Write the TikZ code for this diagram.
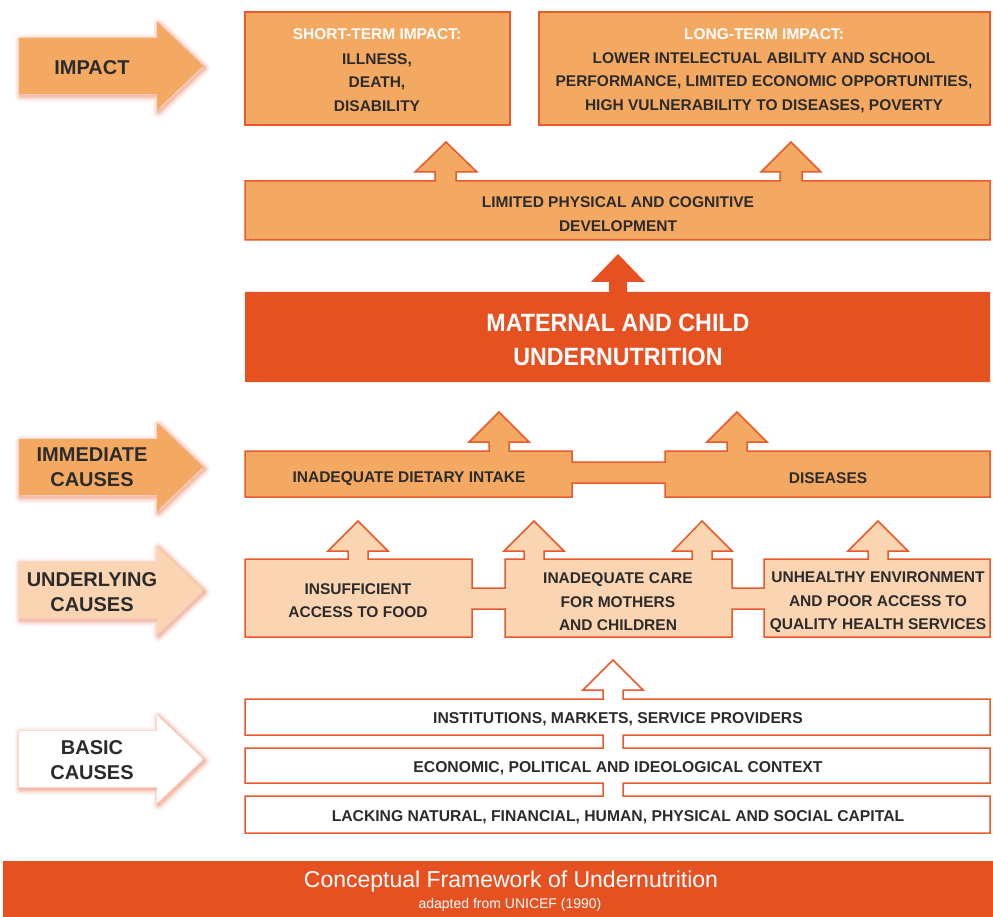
\documentclass[tikz,border=0pt]{standalone}
\usepackage{fontspec}
\setmainfont{Liberation Sans}
\newfontfamily\condfont[FakeStretch=0.93]{Liberation Sans}
\definecolor{ormid}{HTML}{F4A963}
\definecolor{orlight}{HTML}{FBD4B1}
\definecolor{ordark}{HTML}{E65122}
\definecolor{orline}{HTML}{E8592B}
\definecolor{txt}{HTML}{2B2B2B}
\newcommand\sidearrow[2]{%
  \foreach \w/\o in {12/0.05,9/0.08,6/0.12,3/0.2}{%
    \draw[line width=\w pt,draw=orline,opacity=\o,line join=round,shift={(1.5,2)}]
      (19,#1-28) -- (157,#1-28) -- (157,#1-44) -- (203,#1) -- (157,#1+44) -- (157,#1+28) -- (19,#1+28) -- cycle;}
  \fill[#2] (19,#1-28) -- (157,#1-28) -- (157,#1-44) -- (203,#1) -- (157,#1+44) -- (157,#1+28) -- (19,#1+28) -- cycle;}
\begin{document}
\begin{tikzpicture}[x=1pt,y=-1pt,
  block/.style={draw=orline,line width=1.5pt,line join=miter},
  boxtxt/.style={text=txt,align=center,font=\bfseries\fontsize{15.5}{23.5}\selectfont,inner sep=0pt},
  sidetxt/.style={text=txt,align=center,font=\bfseries\fontsize{20}{25}\selectfont,inner sep=0pt},
  wtitle/.style={text=white,font=\bfseries\fontsize{15.5}{23.5}\selectfont,inner sep=0pt}]
\useasboundingbox (0,0) rectangle (993,917);
\fill[white] (0,0) rectangle (993,917);

% ---------- side arrows ----------
\sidearrow{66}{ormid}
\sidearrow{467}{ormid}
\sidearrow{590}{orlight}
\sidearrow{759}{white}
\node[sidetxt] (limpact) at (92,68) {IMPACT};
\node[sidetxt] (limmed) at (92,467) {IMMEDIATE\\CAUSES};
\node[sidetxt] (lunder) at (92,592) {UNDERLYING\\CAUSES};
\node[sidetxt] (lbasic) at (92,760.5) {BASIC\\CAUSES};

% ---------- impact boxes ----------
\draw[block,fill=ormid] (245,12) rectangle (510,125);
\draw[block,fill=ormid] (539,12) rectangle (990,125);
\node[wtitle] (sttitle) at (377,34) {SHORT-TERM IMPACT:};
\node[boxtxt] (sttext) at (377,82.5) {ILLNESS,\\DEATH,\\DISABILITY};
\node[wtitle] (lttitle) at (764,34) {LONG-TERM IMPACT:};
\node[boxtxt] (lttext) at (764,82.5) {LOWER INTELECTUAL ABILITY AND SCHOOL\\PERFORMANCE, LIMITED ECONOMIC OPPORTUNITIES,\\HIGH VULNERABILITY TO DISEASES, POVERTY};

% ---------- limited development ----------
\draw[block,fill=ormid] (245,181) -- (435,181) -- (435,172) -- (415,172) -- (446,142) -- (477,172) -- (456,172) -- (456,181)
  -- (780,181) -- (780,172) -- (761,172) -- (791,142) -- (821,172) -- (802,172) -- (802,181)
  -- (990,181) -- (990,240) -- (245,240) -- cycle;
\node[boxtxt] (limited) at (618,214) {LIMITED PHYSICAL AND COGNITIVE\\DEVELOPMENT};

% ---------- maternal and child undernutrition ----------
\fill[ordark] (245,292) -- (609,292) -- (609,282) -- (591,282) -- (618,254) -- (645,282) -- (627,282) -- (627,292)
  -- (990,292) -- (990,382) -- (245,382) -- cycle;
\node[text=white,align=center,font=\condfont\bfseries\fontsize{25}{34}\selectfont,inner sep=0pt] (mcu) at (618,340) {MATERNAL AND CHILD\\UNDERNUTRITION};

% ---------- immediate causes ----------
\draw[block,fill=ormid] (245,451) -- (489,451) -- (489,442) -- (469,442) -- (499,412) -- (529,442) -- (509,442) -- (509,451)
  -- (572,451) -- (572,462) -- (665,462) -- (665,451)
  -- (727,451) -- (727,442) -- (707,442) -- (737,412) -- (767,442) -- (747,442) -- (747,451)
  -- (990,451) -- (990,497) -- (665,497) -- (665,483) -- (572,483) -- (572,497) -- (245,497) -- cycle;
\node[boxtxt] (diet) at (409,479) {INADEQUATE DIETARY INTAKE};
\node[boxtxt] (dis) at (828,478.5) {DISEASES};

% ---------- underlying causes ----------
\draw[block,fill=orlight] (245,559) -- (348,559) -- (348,551) -- (328,551) -- (358,521) -- (388,551) -- (368,551) -- (368,559)
  -- (472,559) -- (472,588) -- (505,588) -- (505,559)
  -- (524,559) -- (524,551) -- (504,551) -- (534,521) -- (564,551) -- (544,551) -- (544,559)
  -- (692,559) -- (692,551) -- (673,551) -- (702,521) -- (732,551) -- (712,551) -- (712,559)
  -- (732,559) -- (732,588) -- (764,588) -- (764,559)
  -- (868,559) -- (868,551) -- (848,551) -- (878,521) -- (908,551) -- (888,551) -- (888,559)
  -- (990,559) -- (990,637) -- (764,637) -- (764,609) -- (732,609) -- (732,637)
  -- (505,637) -- (505,609) -- (472,609) -- (472,637) -- (245,637) -- cycle;
\node[boxtxt] (food) at (358,600.5) {INSUFFICIENT\\ACCESS TO FOOD};
\node[boxtxt] (care) at (618,602) {INADEQUATE CARE\\FOR MOTHERS\\AND CHILDREN};
\node[boxtxt] (env) at (878,602.5) {UNHEALTHY ENVIRONMENT\\AND POOR ACCESS TO\\QUALITY HEALTH SERVICES};

% ---------- basic causes ----------
\draw[block,fill=white] (245,699) -- (603,699) -- (603,690) -- (583,690) -- (613,660) -- (643,690) -- (623,690) -- (623,699)
  -- (990,699) -- (990,735) -- (623,735) -- (623,748) -- (990,748) -- (990,783) -- (623,783) -- (623,796)
  -- (990,796) -- (990,833) -- (245,833) -- (245,796) -- (603,796) -- (603,783) -- (245,783) -- (245,748)
  -- (603,748) -- (603,735) -- (245,735) -- cycle;
\node[boxtxt,font=\bfseries\fontsize{15.7}{23.5}\selectfont] (inst) at (618,719) {INSTITUTIONS, MARKETS, SERVICE PROVIDERS};
\node[boxtxt,font=\bfseries\fontsize{15.7}{23.5}\selectfont] (econ) at (618,768) {ECONOMIC, POLITICAL AND IDEOLOGICAL CONTEXT};
\node[boxtxt,font=\bfseries\fontsize{15.7}{23.5}\selectfont] (lack) at (618,817) {LACKING NATURAL, FINANCIAL, HUMAN, PHYSICAL AND SOCIAL CAPITAL};

% ---------- banner ----------
\fill[ordark] (3,861) rectangle (993,917);
\node[text=white,font=\fontsize{23}{26}\selectfont,inner sep=0pt] (bt) at (511,882) {Conceptual Framework of Undernutrition};
\node[text=white,font=\fontsize{14}{16}\selectfont,inner sep=0pt] (bs) at (510,905) {adapted from UNICEF (1990)};
\end{tikzpicture}
\end{document}
